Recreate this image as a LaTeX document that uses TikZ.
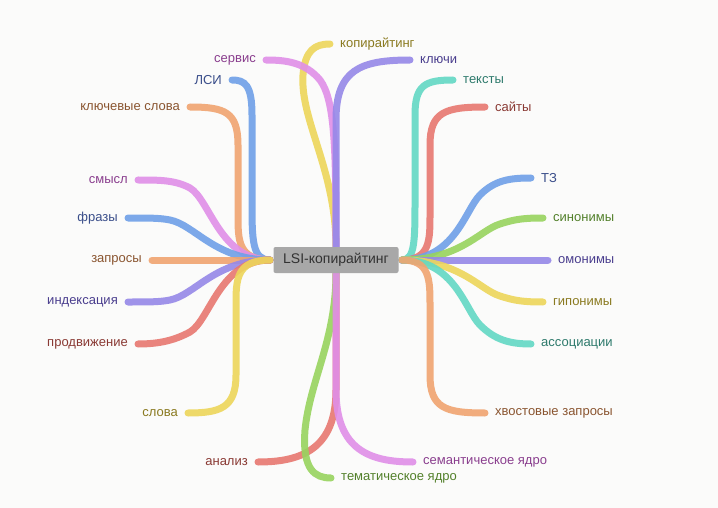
\documentclass[tikz,border=0pt]{standalone}
\usepackage{fontspec}
\setmainfont{Liberation Sans}
\begin{document}
\begin{tikzpicture}[x=1pt,y=-1pt,
  br/.style={line width=7pt,line cap=round,draw=#1,opacity=0.9},
  lb/.style={font=\fontsize{13}{15}\selectfont,inner sep=10pt,text=#1},
  lbl/.style={lb=#1,anchor=east},
  lbr/.style={lb=#1,anchor=west}]
\definecolor{cB}{HTML}{6FA0E8}\definecolor{cO}{HTML}{F0A470}
\definecolor{cP}{HTML}{E08FE8}\definecolor{cY}{HTML}{EDD65A}
\definecolor{cV}{HTML}{9688E8}\definecolor{cR}{HTML}{E87870}
\definecolor{cT}{HTML}{62D8C4}\definecolor{cG}{HTML}{98D45E}
\definecolor{tB}{HTML}{3A4E8A}\definecolor{tO}{HTML}{8A5530}
\definecolor{tP}{HTML}{8A3E8E}\definecolor{tY}{HTML}{8A7A20}
\definecolor{tV}{HTML}{4A3E8E}\definecolor{tR}{HTML}{8A3A34}
\definecolor{tT}{HTML}{2E7A6C}\definecolor{tG}{HTML}{52802A}
\fill[fill={rgb,255:red,251;green,251;blue,250}] (0,0) rectangle (718,508);
\useasboundingbox (0,0) rectangle (718,508);
\coordinate (L) at (270,260); \coordinate (R) at (402,260);
\coordinate (T) at (336,247); \coordinate (B) at (336,273);
% labels
\node[lbl=tB] (lsi) at (232,80) {ЛСИ};
\node[lbl=tP] (serv) at (266,60) {сервис};
\node[lbr=tY] (kop) at (330,44) {копирайтинг};
\node[lbr=tV] (klu) at (410,60) {ключи};
\node[lbl=tO] (kls) at (190,107) {ключевые слова};
\node[lbl=tP] (sm) at (138,180) {смысл};
\node[lbl=tB] (fr) at (128,218) {фразы};
\node[lbl=tO] (zap) at (152,260) {запросы};
\node[lbl=tV] (ind) at (128,302) {индексация};
\node[lbl=tR] (prod) at (138,344) {продвижение};
\node[lbl=tY] (sl) at (188,413) {слова};
\node[lbl=tR] (an) at (258,462) {анализ};
\node[lbr=tG] (tem) at (331,478) {тематическое ядро};
\node[lbr=tP] (sem) at (413,462) {семантическое ядро};
\node[lbr=tT] (tek) at (453,80) {тексты};
\node[lbr=tR] (sai) at (485,107) {сайты};
\node[lbr=tB] (tz) at (531,178) {ТЗ};
\node[lbr=tG] (sin) at (543,218) {синонимы};
\node[lbr=tV] (omo) at (548,260) {омонимы};
\node[lbr=tY] (gip) at (543,302) {гипонимы};
\node[lbr=tT] (asc) at (531,344) {ассоциации};
\node[lbr=tO] (hv) at (485,413) {хвостовые запросы};
% branches
\draw[br=cY] (T) .. controls (336,170) and (300,120) .. (303,75) .. controls (305,50) and (315,44) .. (kop.west);
\draw[br=cP] (T) .. controls (336,150) and (335,100) .. (320,80) .. controls (305,62) and (285,60) .. (serv.east);
\draw[br=cV] (T) -- (336,120) .. controls (336,70) and (360,60) .. (klu.west);
\draw[br=cB] (L) .. controls (252,260) and (252,240) .. (252,200) -- (252,115) .. controls (252,85) and (245,80) .. (lsi.east);
\draw[br=cO] (L) .. controls (238,260) and (238,240) .. (238,215) -- (238,145) .. controls (238,112) and (225,107) .. (kls.east);
\draw[br=cP] (L) .. controls (220,260) and (210,200) .. (190,188) .. controls (175,180) and (160,180) .. (sm.east);
\draw[br=cB] (L) .. controls (215,260) and (195,225) .. (170,220) .. controls (160,218) and (150,218) .. (fr.east);
\draw[br=cO] (L) -- (zap.east);
\draw[br=cV] (L) .. controls (215,260) and (195,295) .. (170,300) .. controls (160,302) and (150,302) .. (ind.east);
\draw[br=cR] (L) .. controls (220,260) and (210,320) .. (190,332) .. controls (175,340) and (160,344) .. (prod.east);
\draw[br=cY] (L) .. controls (236,260) and (236,280) .. (236,305) -- (236,375) .. controls (236,408) and (220,413) .. (sl.east);
\draw[br=cR] (B) -- (336,390) .. controls (336,450) and (300,462) .. (an.east);
\draw[br=cG] (B) .. controls (336,340) and (310,380) .. (305,430) .. controls (302,470) and (315,478) .. (tem.west);
\draw[br=cP] (B) -- (336,390) .. controls (336,450) and (370,462) .. (sem.west);
\draw[br=cT] (R) .. controls (415,260) and (415,240) .. (415,200) -- (415,115) .. controls (415,85) and (425,80) .. (tek.west);
\draw[br=cR] (R) .. controls (430,260) and (430,240) .. (430,215) -- (430,145) .. controls (430,112) and (445,107) .. (sai.west);
\draw[br=cB] (R) .. controls (455,260) and (465,210) .. (480,195) .. controls (495,180) and (510,178) .. (tz.west);
\draw[br=cG] (R) .. controls (460,260) and (480,230) .. (500,224) .. controls (515,219) and (525,218) .. (sin.west);
\draw[br=cV] (R) -- (omo.west);
\draw[br=cY] (R) .. controls (460,260) and (480,290) .. (500,296) .. controls (515,301) and (525,302) .. (gip.west);
\draw[br=cT] (R) .. controls (455,260) and (465,310) .. (480,325) .. controls (495,340) and (510,344) .. (asc.west);
\draw[br=cO] (R) .. controls (430,260) and (430,280) .. (430,305) -- (430,375) .. controls (430,408) and (445,413) .. (hv.west);
% center
\node[fill={rgb,255:red,168;green,168;blue,168},rounded corners=2pt,minimum width=125pt,minimum height=26pt,
  text={rgb,255:red,50;green,50;blue,50},font=\fontsize{14}{16}\selectfont] (c) at (336,260) {LSI-копирайтинг};
\end{tikzpicture}
\end{document}
